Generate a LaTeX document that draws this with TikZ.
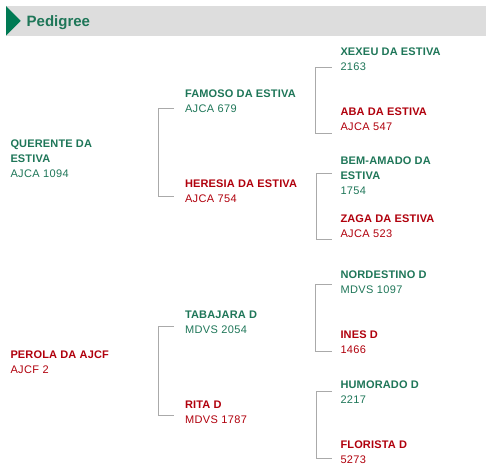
\documentclass[tikz,border=0pt]{standalone}
\usepackage{fontspec}
\setmainfont{Liberation Sans}
\newfontfamily\numfont[LetterSpace=3.5]{Liberation Sans}
\newfontfamily\namefont[LetterSpace=1.5]{Liberation Sans}
\definecolor{tgreen}{RGB}{30,118,88}
\definecolor{tred}{RGB}{176,0,12}
\definecolor{hgreen}{RGB}{0,122,84}
\definecolor{hbar}{RGB}{221,221,221}
\definecolor{bline}{RGB}{170,170,170}
\begin{document}
\begin{tikzpicture}[x=1pt,y=-1pt,
  lbl/.style={anchor=base west,inner sep=0pt,outer sep=0pt},
  gname/.style={lbl,font=\namefont\fontsize{11}{15}\selectfont\bfseries,text=tgreen},
  rname/.style={lbl,font=\namefont\fontsize{11}{15}\selectfont\bfseries,text=tred},
  gnum/.style={lbl,font=\numfont\fontsize{11}{15}\selectfont,text=tgreen},
  rnum/.style={lbl,font=\numfont\fontsize{11}{15}\selectfont,text=tred},
  brk/.style={draw=bline,line width=1pt}]
\useasboundingbox (0,0) rectangle (490,473);
% header
\fill[hbar] (6,6) rectangle (486,35.7);
\fill[hgreen] (6,6) -- (20.7,20.85) -- (6,35.7) -- cycle;
\node[anchor=base west,inner sep=0pt,font=\fontsize{15}{18}\selectfont\bfseries,text=tgreen] (title) at (26.5,26.3) {Pedigree};
% generation 1
\node[gname] (q1) at (10.5,148) {QUERENTE DA};
\node[gname] (q2) at (10.5,163) {ESTIVA};
\node[gnum] (q3) at (10.5,178) {AJCA 1094};
\node[rname] (p1) at (10.5,358) {PEROLA DA AJCF};
\node[rnum] (p2) at (10.5,373) {AJCF 2};
% generation 2
\node[gname] (f1) at (185,98) {FAMOSO DA ESTIVA};
\node[gnum] (f2) at (185,113) {AJCA 679};
\node[rname] (h1) at (185,188) {HERESIA DA ESTIVA};
\node[rnum] (h2) at (185,203) {AJCA 754};
\node[gname] (t1) at (185,318) {TABAJARA D};
\node[gnum] (t2) at (185,333) {MDVS 2054};
\node[rname] (r1) at (185,408) {RITA D};
\node[rnum] (r2) at (185,423) {MDVS 1787};
% generation 3
\node[gname] (x1) at (340.5,56) {XEXEU DA ESTIVA};
\node[gnum] (x2) at (340.5,71) {2163};
\node[rname] (a1) at (340.5,116) {ABA DA ESTIVA};
\node[rnum] (a2) at (340.5,131) {AJCA 547};
\node[gname] (b1) at (340.5,165) {BEM-AMADO DA};
\node[gname] (b2) at (340.5,180) {ESTIVA};
\node[gnum] (b3) at (340.5,195) {1754};
\node[rname] (z1) at (340.5,223) {ZAGA DA ESTIVA};
\node[rnum] (z2) at (340.5,238) {AJCA 523};
\node[gname] (n1) at (340.5,278) {NORDESTINO D};
\node[gnum] (n2) at (340.5,293) {MDVS 1097};
\node[rname] (i1) at (340.5,338) {INES D};
\node[rnum] (i2) at (340.5,353) {1466};
\node[gname] (m1) at (340.5,388) {HUMORADO D};
\node[gnum] (m2) at (340.5,403) {2217};
\node[rname] (l1) at (340.5,448) {FLORISTA D};
\node[rnum] (l2) at (340.5,463) {5273};
% bracket coordinates
\coordinate (k1a) at (174,108.3);  \coordinate (k1b) at (174,197);
\coordinate (k2a) at (331.5,67.5); \coordinate (k2b) at (331.5,133.3);
\coordinate (k3a) at (332,173.3);  \coordinate (k3b) at (332,240);
\coordinate (k4a) at (174,326);    \coordinate (k4b) at (174,415);
\coordinate (k5a) at (331.5,284);  \coordinate (k5b) at (331.5,351);
\coordinate (k6a) at (332,391.7);  \coordinate (k6b) at (332,458.3);
\draw[brk] (k1a) -- ++(-15.5,0) |- (k1b);
\draw[brk] (k2a) -- ++(-16,0) |- (k2b);
\draw[brk] (k3a) -- ++(-15.5,0) |- (k3b);
\draw[brk] (k4a) -- ++(-15.5,0) |- (k4b);
\draw[brk] (k5a) -- ++(-16,0) |- (k5b);
\draw[brk] (k6a) -- ++(-15.5,0) |- (k6b);
\end{tikzpicture}
\end{document}
